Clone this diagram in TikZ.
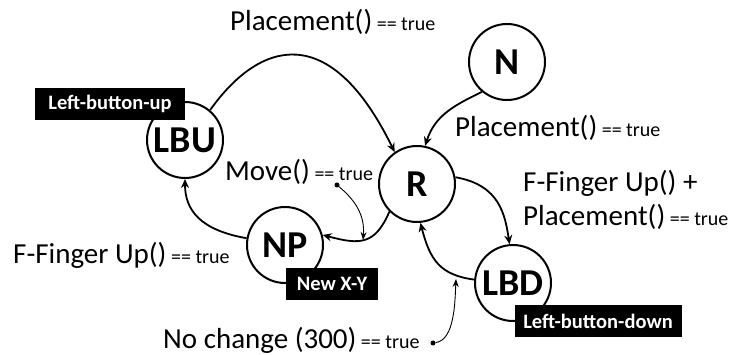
\documentclass[tikz,border=0pt]{standalone}
\usepackage{fontspec}
\setmainfont{Carlito}
\usetikzlibrary{arrows.meta}
\begin{document}
\begin{tikzpicture}[x=1pt,y=-1pt,
  state/.style={circle,draw,line width=2pt,minimum size=76pt,inner sep=0pt,font=\fontsize{38}{38}\selectfont\bfseries},
  tag/.style={fill=black,text=white,inner sep=0pt,minimum height=32pt,font=\fontsize{20.5}{20.5}\selectfont\bfseries},
  cond/.style={inner sep=0pt,anchor=west,font=\fontsize{29}{34}\selectfont},
  flow/.style={line width=1.8pt,-{Stealth[length=9pt,width=8pt]}},
  pointer/.style={line width=0.9pt,-{Stealth[length=8pt,width=6pt]}},
  dot/.style={circle,fill=black,inner sep=0pt,minimum size=5pt}]
\useasboundingbox (0,0) rectangle (731,355);
\newcommand{\eqt}{{\fontsize{20}{20}\selectfont\ == true}}

% states
\node[state] (LBU) at (185,140) {LBU};
\node[state] (R)   at (417,184) {R};
\node[state] (N)   at (507,62)  {N};
\node[state] (NP)  at (285,245) {NP};
\node[state] (LBD) at (513,283) {LBD};

% black tags
\node[tag,minimum width=150pt] (tLBU) at (110,104) {Left-button-up};
\node[tag,minimum width=92pt]  (tNP)  at (332,284) {New X-Y};
\node[tag,minimum width=167pt] (tLBD) at (598,321) {Left-button-down};

% conditions
\node[cond] (c1) at (230,22)  {Placement()\eqt};
\node[cond] (c2) at (455,128) {Placement()\eqt};
\node[cond] (c3) at (225,172) {Move()\eqt};
\node[cond,align=left] (c4) at (523,200) {F-Finger Up() +\\Placement()\eqt};
\node[cond] (c5) at (13,255)  {F-Finger Up()\eqt};
\node[cond] (c6) at (163,340) {No change (300)\eqt};

% transitions
\draw[flow] (LBU.50) .. controls (260,40) and (330,20) .. (R.125);
\draw[flow] (N.230) .. controls (455,105) and (435,115) .. (R.78);
\draw[flow] (R.10) .. controls (500,185) and (505,215) .. (LBD.95);
\draw[flow] (LBD.175) .. controls (440,275) and (430,260) .. (R.275);
\draw[flow] (R.225) .. controls (375,245) and (360,245) .. (NP.15);
\draw[flow] (NP.170) .. controls (200,230) and (185,210) .. (LBU.270);

% pointers from the conditions
\node[dot] (d1) at (337,185) {};
\coordinate (a1) at (363,240);
\draw[pointer] (d1) .. controls (355,200) and (365,215) .. (a1);
\node[dot] (d2) at (433,343) {};
\coordinate (a2) at (456,279);
\draw[pointer] (d2) .. controls (455,340) and (455,300) .. (a2);
\end{tikzpicture}
\end{document}
